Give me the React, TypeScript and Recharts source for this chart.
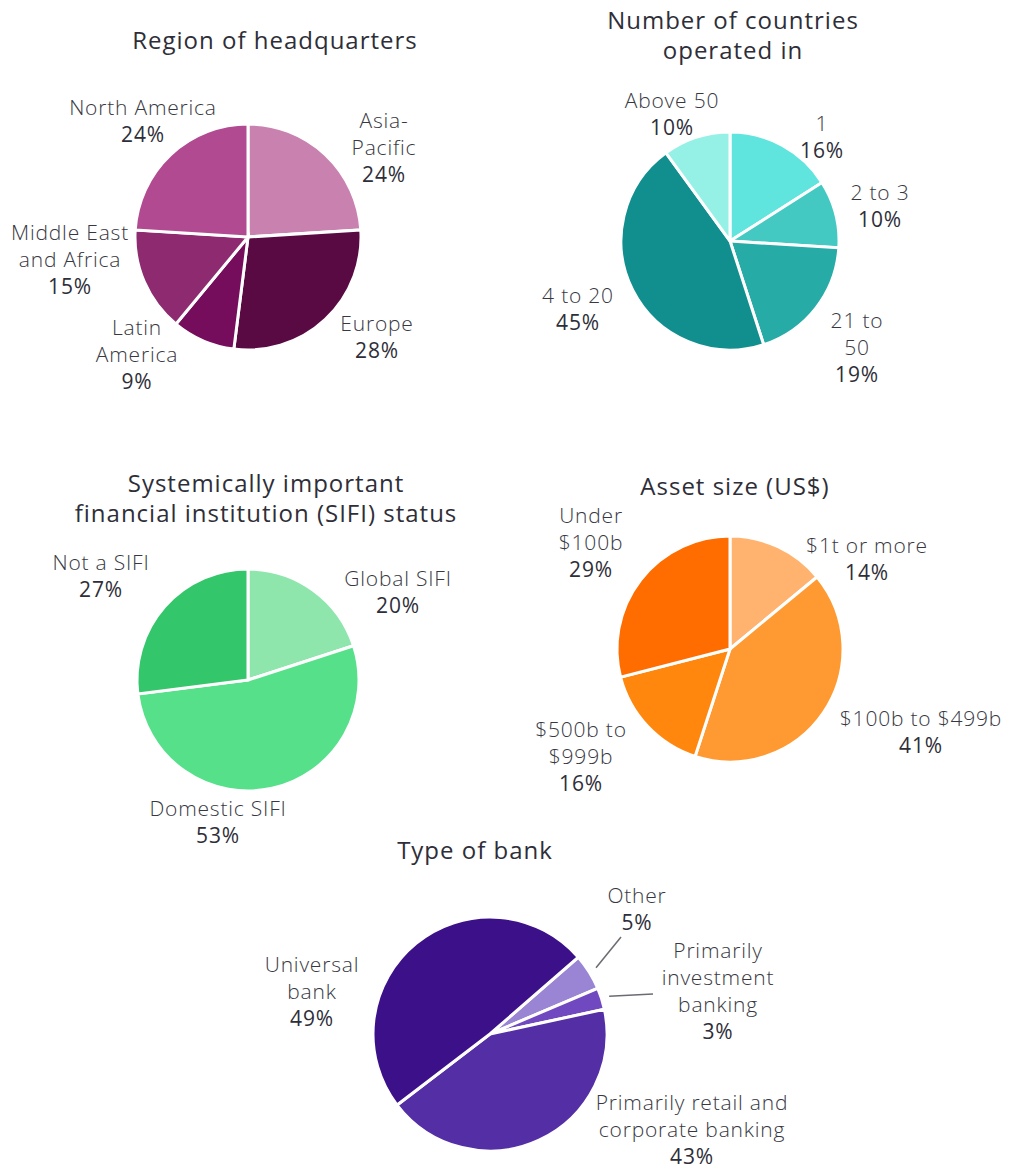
import React from 'react';
import { PieChart, Pie, Cell } from 'recharts';

// Region of headquarters
const regionNames = ['Asia-Pacific', 'Europe', 'Latin America', 'Middle East and Africa', 'North America'];
const regionValues = [24, 28, 9, 15, 24];
const regionLines = [['Asia-', 'Pacific'], ['Europe'], ['Latin', 'America'], ['Middle East', 'and Africa'], ['North America']];
const regionColors = ['#C981B0', '#5A0A42', '#760C5C', '#8E2A70', '#B24A91'];

// Number of countries operated in
const countryNames = ['1', '2 to 3', '21 to 50', '4 to 20', 'Above 50'];
const countryValues = [16, 10, 19, 45, 10];
const countryLines = [['1'], ['2 to 3'], ['21 to', '50'], ['4 to 20'], ['Above 50']];
const countryColors = ['#5FE5DE', '#43C9C2', '#27ABA7', '#118F8F', '#95F0E6'];

// SIFI status
const sifiNames = ['Global SIFI', 'Domestic SIFI', 'Not a SIFI'];
const sifiValues = [20, 53, 27];
const sifiLines = [['Global SIFI'], ['Domestic SIFI'], ['Not a SIFI']];
const sifiColors = ['#8EE6AC', '#57E08A', '#34C66A'];

// Asset size
const assetNames = ['$1t or more', '$100b to $499b', '$500b to $999b', 'Under $100b'];
const assetValues = [14, 41, 16, 29];
const assetLines = [['$1t or more'], ['$100b to $499b'], ['$500b to', '$999b'], ['Under', '$100b']];
const assetColors = ['#FFB36E', '#FF9A32', '#FF870E', '#FF6D00'];

// Type of bank
const bankNames = ['Other', 'Primarily investment banking', 'Primarily retail and corporate banking', 'Universal bank'];
const bankValues = [5, 3, 43, 49];
const bankLines = [['Other'], ['Primarily', 'investment', 'banking'], ['Primarily retail and', 'corporate banking'], ['Universal', 'bank']];
const bankColors = ['#9A84D4', '#7048C0', '#532EA4', '#3C1088'];

const toRows = (names: string[], values: number[]) => names.map((name, i) => ({ name, value: values[i] }));

// label block centres, relative to the pie centre
const regionLabelPos = [[136, -90], [129, 99], [-111, 117], [-178, 22], [-105, -117]];
const countryLabelPos = [[92, -105], [150, -36], [127, 106], [-152, 67], [-58, -128]];
const sifiLabelPos = [[150, -89], [-30, 141], [-147, -105]];
const assetLabelPos = [[137, -91], [191, 82], [-149, 107], [-139, -107]];
const bankLabelPos = [[147, -126], [228, -44], [202, 95], [-178, -43]];
const bankLeaders: (number[] | null)[] = [[131, -97], [163, -40], null, null];

const LINE_H = 27;
const FONT = '"Open Sans", sans-serif';
const RAD = Math.PI / 180;
const M = 5; // PieChart default margin

const makeLabel = (lines: string[][], pos: number[][], leaders?: (number[] | null)[]) => (props: any) => {
  const { cx, cy, index, value, midAngle, outerRadius } = props;
  const rows = [...lines[index], `${value}%`];
  const [dx, dy] = pos[index];
  const top = cy + dy - ((rows.length - 1) * LINE_H) / 2;
  const lead = leaders ? leaders[index] : null;
  return (
    <g key={`lbl-${index}`}>
      {lead && (
        <line
          x1={cx + Math.cos(-midAngle * RAD) * (outerRadius + 8)}
          y1={cy + Math.sin(-midAngle * RAD) * (outerRadius + 8)}
          x2={cx + lead[0]}
          y2={cy + lead[1]}
          stroke="#6b6b73"
          strokeWidth={1.5}
        />
      )}
      {rows.map((t, i) => (
        <text
          key={i}
          x={cx + dx}
          y={top + i * LINE_H}
          textAnchor="middle"
          dominantBaseline="central"
          fontFamily={FONT}
          fontSize={21}
          letterSpacing={0.8}
          fontWeight={i === rows.length - 1 ? 500 : 300}
          fill={i === rows.length - 1 ? '#2E2E38' : '#383842'}
        >
          {t}
        </text>
      ))}
    </g>
  );
};

const titleStyle = (x: number, y: number): React.CSSProperties => ({
  position: 'absolute',
  left: x - 250,
  top: y,
  width: 500,
  textAlign: 'center',
  fontFamily: FONT,
  fontSize: 24,
  fontWeight: 500,
  letterSpacing: 1,
  color: '#2E2E38',
  lineHeight: '30px',
});

export default function App() {
  const pies = [
    { rows: toRows(regionNames, regionValues), colors: regionColors, cx: 248, cy: 237, r: 113, start: 90, label: makeLabel(regionLines, regionLabelPos) },
    { rows: toRows(countryNames, countryValues), colors: countryColors, cx: 730, cy: 241, r: 109, start: 90, label: makeLabel(countryLines, countryLabelPos) },
    { rows: toRows(sifiNames, sifiValues), colors: sifiColors, cx: 248, cy: 680, r: 111, start: 90, label: makeLabel(sifiLines, sifiLabelPos) },
    { rows: toRows(assetNames, assetValues), colors: assetColors, cx: 730, cy: 649, r: 113, start: 90, label: makeLabel(assetLines, assetLabelPos) },
    { rows: toRows(bankNames, bankValues), colors: bankColors, cx: 490, cy: 1034, r: 117, start: 41, label: makeLabel(bankLines, bankLabelPos, bankLeaders) },
  ];
  return (
    <div style={{ position: 'absolute', left: 0, top: 0, width: 1009, height: 1169, background: '#fff' }}>
      <PieChart width={1009} height={1169}>
        {pies.map((p, k) => (
          <Pie
            key={k}
            data={p.rows}
            dataKey="value"
            nameKey="name"
            cx={p.cx - M}
            cy={p.cy - M}
            outerRadius={p.r}
            startAngle={p.start}
            endAngle={p.start - 360}
            stroke="#fff"
            strokeWidth={3}
            label={p.label}
            labelLine={false}
            isAnimationActive={false}
          >
            {p.rows.map((_, i) => (
              <Cell key={i} fill={p.colors[i]} />
            ))}
          </Pie>
        ))}
      </PieChart>
      <div style={titleStyle(275, 25)}>Region of headquarters</div>
      <div style={titleStyle(733, 5)}>Number of countries<br />operated in</div>
      <div style={titleStyle(266, 468)}>Systemically important<br />financial institution (SIFI) status</div>
      <div style={titleStyle(735, 471)}>Asset size (US$)</div>
      <div style={titleStyle(475, 835)}>Type of bank</div>
    </div>
  );
}
